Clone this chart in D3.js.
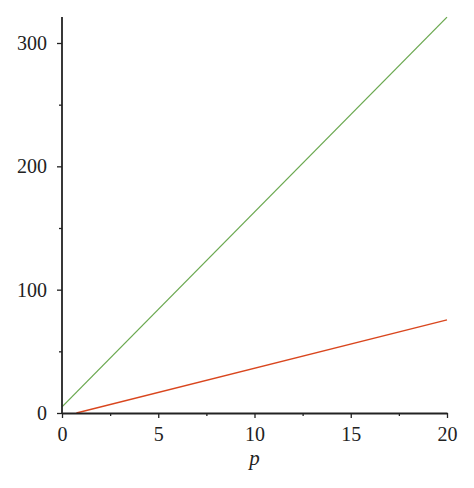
<!DOCTYPE html>
<html><head><meta charset="utf-8">
<script src="https://cdn.jsdelivr.net/npm/d3@7"></script>
<style>body{margin:0;background:#fff}</style>
</head><body>
<svg id="c" width="474" height="488"></svg>
<script>
const xTicks = [0, 5, 10, 15, 20];
const xMinorTicks = [2.5, 7.5, 12.5, 17.5];
const yTicks = [0, 100, 200, 300];
const yMinorTicks = [50, 150, 250];
const greenSeries = [[0, 5], [20, 321]];
const redSeries = [[0.75, 0], [20, 75.5]];
const xLabel = "p";

const svg = d3.select("#c");
const x = d3.scaleLinear().domain([0, 20]).range([62, 447]);
const y = d3.scaleLinear().domain([0, 300]).range([413, 43]);
const font = "'Liberation Serif', 'DejaVu Serif', serif";

// lines
const line = d3.line().x(d => x(d[0])).y(d => y(d[1]));
svg.append("path").datum(greenSeries).attr("d", line)
  .attr("fill", "none").attr("stroke", "#6aa84f").attr("stroke-width", 1.3);
svg.append("path").datum(redSeries).attr("d", line)
  .attr("fill", "none").attr("stroke", "#d9461e").attr("stroke-width", 1.3);

// x axis
const gx = svg.append("g").attr("transform", `translate(0,${y(0)})`);
gx.call(d3.axisBottom(x).tickValues(xMinorTicks).tickSize(3).tickFormat(""));
gx.call(g => g.selectAll(".domain").remove());
const gx2 = svg.append("g").attr("transform", `translate(0,${y(0)})`);
gx2.call(d3.axisBottom(x).tickValues(xTicks).tickSize(5).tickSizeOuter(0).tickPadding(9).tickFormat(d3.format("d")));
[gx, gx2].forEach(g => {
  g.selectAll("line").attr("stroke", "#222").attr("stroke-width", 1.3);
  g.selectAll("path").attr("stroke", "#222").attr("stroke-width", 1.8);
  g.selectAll("text").attr("font-family", font).attr("font-size", 20).attr("fill", "#222");
});

// y axis
const gy = svg.append("g").attr("transform", `translate(${x(0)},0)`);
gy.call(d3.axisLeft(y).tickValues(yMinorTicks).tickSize(3).tickFormat(""));
gy.call(g => g.selectAll(".domain").remove());
const gy2 = svg.append("g").attr("transform", `translate(${x(0)},0)`);
gy2.call(d3.axisLeft(y).tickValues(yTicks).tickSize(5).tickSizeOuter(0).tickPadding(10).tickFormat(d3.format("d")));
gy2.select(".domain").attr("d", `M0,${y(0)}V${y(321)}`);
[gy, gy2].forEach(g => {
  g.selectAll("line").attr("stroke", "#222").attr("stroke-width", 1.3);
  g.selectAll("path").attr("stroke", "#222").attr("stroke-width", 1.8);
  g.selectAll("text").attr("font-family", font).attr("font-size", 20).attr("fill", "#222");
});

svg.append("text").attr("x", x(10)).attr("y", 465).attr("text-anchor", "middle")
  .attr("font-family", font).attr("font-style", "italic").attr("font-size", 21)
  .attr("fill", "#222").text(xLabel);
</script>
</body></html>
